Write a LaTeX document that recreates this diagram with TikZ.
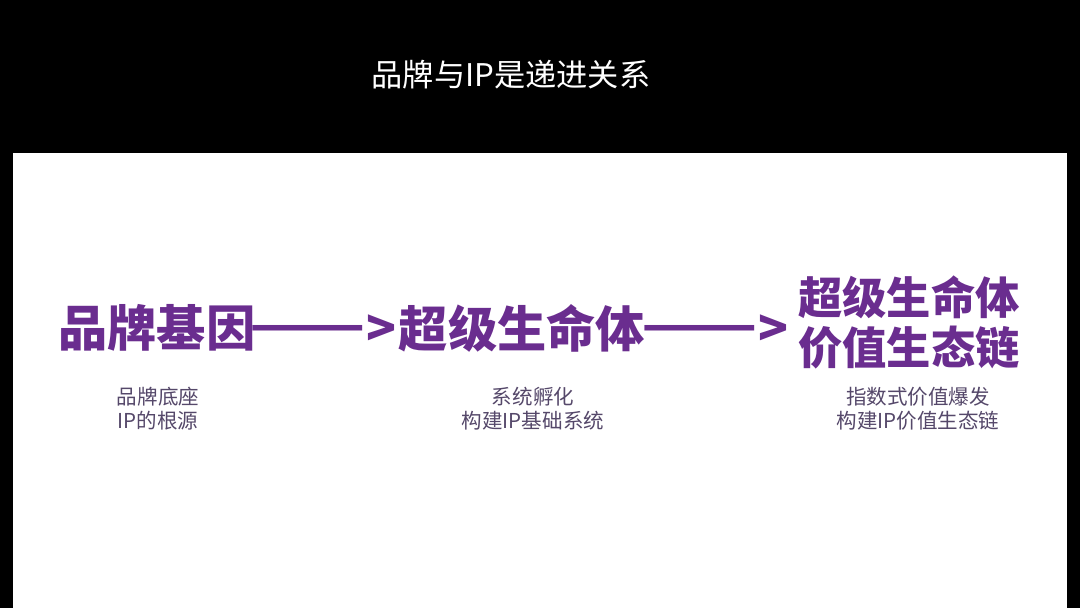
\documentclass[tikz,border=0pt]{standalone}
\usepackage{fontspec}
\newfontfamily\cjk{Noto Sans CJK SC}
\definecolor{ppurple}{HTML}{6A2D8F}
\definecolor{subgray}{HTML}{55486A}
\tikzset{
  bigtxt/.style={inner sep=0pt, text=ppurple, font=\cjk\bfseries\fontsize{35}{40}\selectfont},
  dashtxt/.style={bigtxt, xscale=1.38, transform shape},
  rtxt/.style={inner sep=0pt, text=ppurple, align=center, font=\cjk\bfseries\fontsize{31.5}{35.5}\selectfont},
  subtxt/.style={inner sep=0pt, text=subgray, align=center, font=\cjk\fontsize{14.6}{17}\selectfont},
  titletxt/.style={inner sep=0pt, text=white, font=\cjk\fontsize{22.2}{26}\selectfont}
}
\begin{document}
\begin{tikzpicture}[x=0.025cm,y=-0.025cm]
\useasboundingbox (0,0) rectangle (1080,608);
\fill[black] (0,0) rectangle (1080,608);
\fill[white] (13,153) rectangle (1067,608);
\node[titletxt] (title) at (511,75) {品牌与IP是递进关系};
\node[bigtxt] (gene) at (157,328) {品牌基因};
\node[dashtxt] (dash1) at (308,334) {——};
\node[bigtxt] (gt1) at (381,331) {>};
\node[bigtxt] (life) at (522,328) {超级生命体};
\node[dashtxt] (dash2) at (700,334) {——};
\node[bigtxt] (gt2) at (773,331) {>};
\node[rtxt] (eco) at (909,322) {超级生命体\\价值生态链};
\node[subtxt] (s1) at (158,409) {品牌底座\\IP的根源};
\node[subtxt] (s2) at (533,409) {系统孵化\\构建IP基础系统};
\node[subtxt] (s3) at (918,409) {指数式价值爆发\\构建IP价值生态链};
\end{tikzpicture}
\end{document}
